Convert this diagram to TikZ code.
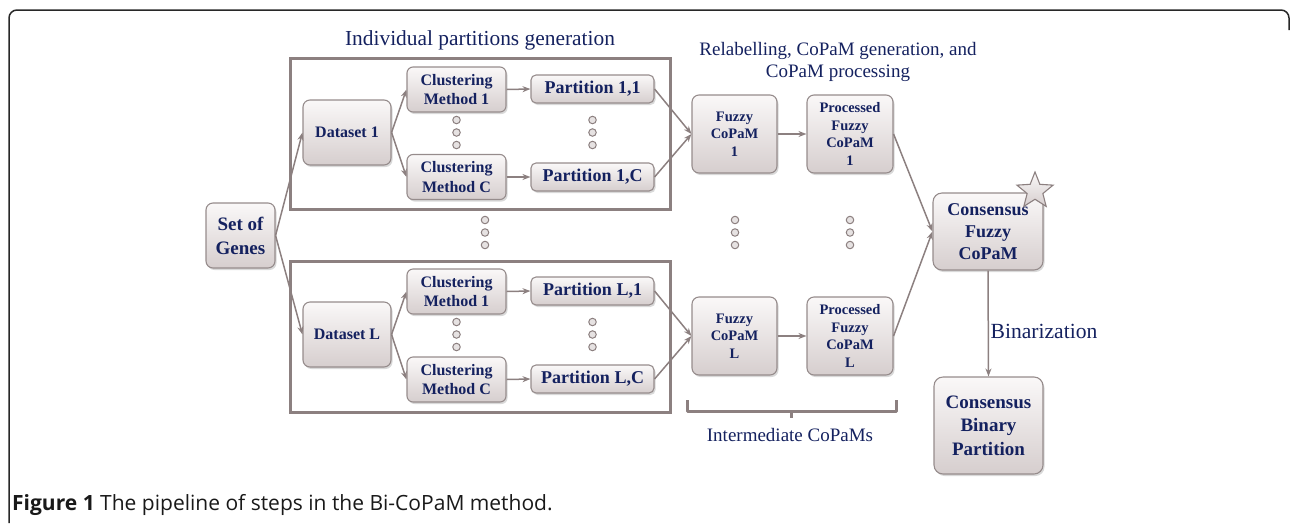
\documentclass[tikz,border=0pt]{standalone}
\usepackage{fontspec}
\setmainfont{Liberation Serif}
\newfontfamily\capfont{Open Sans}
\usetikzlibrary{arrows.meta,shadows,shapes.geometric}
\definecolor{navy}{RGB}{20,33,95}
\definecolor{lgray}{RGB}{140,128,128}
\definecolor{bgray}{RGB}{150,140,140}
\definecolor{topc}{RGB}{250,248,248}
\definecolor{botc}{RGB}{214,206,206}
\definecolor{framec}{RGB}{40,40,40}
\tikzset{
  box/.style={draw=bgray, line width=1.1pt, rounded corners=7pt, top color=topc, bottom color=botc,
    drop shadow={shadow xshift=1.5pt, shadow yshift=-2pt, opacity=0.25, fill=black!60},
    text=navy, align=center, inner sep=0pt},
  conn/.style={draw=lgray, line width=1.5pt, -{Stealth[length=8pt,width=6pt]}},
  grp/.style={draw=lgray, line width=3pt},
  dotc/.style={circle, draw=lgray, line width=1pt, fill=botc!60, minimum size=7.5pt, inner sep=0pt},
  lbl/.style={text=navy, inner sep=0pt},
}
\begin{document}
\begin{tikzpicture}[x=1pt,y=-1pt]
\useasboundingbox (0,0) rectangle (1290,523);
% outer frame
\draw[framec, line width=1.5pt, rounded corners=8pt] (9,523) -- (9,10) -- (1289,10) -- (1289,30);
% group boxes
\node[grp, minimum width=380pt, minimum height=151pt, inner sep=0pt] (g1) at (480,133.5) {};
\node[grp, minimum width=380pt, minimum height=151pt, inner sep=0pt] (g2) at (480,336.5) {};
\node[lbl, font=\fontsize{21.4}{24}\selectfont] (t1) at (480,40) {Individual partitions generation};
\node[lbl, font=\fontsize{19}{22}\selectfont, align=center] (t2) at (838,62) {Relabelling, CoPaM generation, and\\CoPaM processing};
% set of genes
\node[box, minimum width=69pt, minimum height=65pt, font=\fontsize{19}{24}\selectfont\bfseries] (sg) at (240.5,235.5) {Set of\\Genes};
% top group
\node[box, minimum width=88pt, minimum height=65pt, font=\fontsize{16}{19}\selectfont\bfseries] (ds1) at (347,132.5) {Dataset 1};
\node[box, rounded corners=6pt, minimum width=99pt, minimum height=45pt, font=\fontsize{16}{19.5}\selectfont\bfseries] (c11) at (456.5,89.5) {Clustering\\Method 1};
\node[box, rounded corners=6pt, minimum width=99pt, minimum height=45pt, font=\fontsize{16}{19.5}\selectfont\bfseries] (c1c) at (456.5,177) {Clustering\\Method C};
\node[box, rounded corners=5pt, minimum width=123pt, minimum height=28pt, font=\fontsize{18}{20}\selectfont\bfseries] (p11) at (592.5,89) {Partition 1,1};
\node[box, rounded corners=5pt, minimum width=123pt, minimum height=28pt, font=\fontsize{18}{20}\selectfont\bfseries] (p1c) at (592.5,177) {Partition 1,C};
% bottom group
\node[box, minimum width=88pt, minimum height=65pt, font=\fontsize{16}{19}\selectfont\bfseries] (dsl) at (347,334.5) {Dataset L};
\node[box, rounded corners=6pt, minimum width=99pt, minimum height=45pt, font=\fontsize{16}{19.5}\selectfont\bfseries] (cl1) at (456.5,291.5) {Clustering\\Method 1};
\node[box, rounded corners=6pt, minimum width=99pt, minimum height=45pt, font=\fontsize{16}{19.5}\selectfont\bfseries] (clc) at (456.5,379.5) {Clustering\\Method C};
\node[box, rounded corners=5pt, minimum width=123pt, minimum height=28pt, font=\fontsize{18}{20}\selectfont\bfseries] (pl1) at (592.5,291) {Partition L,1};
\node[box, rounded corners=5pt, minimum width=123pt, minimum height=28pt, font=\fontsize{18}{20}\selectfont\bfseries] (plc) at (592.5,379) {Partition L,C};
% copams
\node[box, minimum width=85pt, minimum height=78pt, font=\fontsize{14.5}{17.3}\selectfont\bfseries] (fz1) at (734.5,134) {Fuzzy\\CoPaM\\1};
\node[box, minimum width=86pt, minimum height=78pt, font=\fontsize{14.5}{17.5}\selectfont\bfseries] (pf1) at (850,134) {Processed\\Fuzzy\\CoPaM\\1};
\node[box, minimum width=85pt, minimum height=78pt, font=\fontsize{14.5}{17.3}\selectfont\bfseries] (fzl) at (734.5,336) {Fuzzy\\CoPaM\\L};
\node[box, minimum width=86pt, minimum height=78pt, font=\fontsize{14.5}{17.5}\selectfont\bfseries] (pfl) at (850,336) {Processed\\Fuzzy\\CoPaM\\L};
\node[box, rounded corners=9pt, minimum width=110pt, minimum height=77pt, font=\fontsize{18}{22}\selectfont\bfseries] (cf) at (988,231.5) {Consensus\\Fuzzy\\CoPaM};
\node[box, rounded corners=9pt, minimum width=109pt, minimum height=97pt, font=\fontsize{19}{23.5}\selectfont\bfseries] (cb) at (988.5,425.5) {Consensus\\Binary\\Partition};
\node[star, star points=5, star point ratio=2.3, minimum size=38pt, inner sep=0pt, draw=lgray, line width=1.1pt, top color=topc, bottom color=botc] (st) at (1035,191) {};
% dots
\foreach \n/\x/\y in {a/456.5/120, b/592.5/120, c/485/220, d/735/220, e/850/220, f/456.5/322, g/592.5/322}{
  \node[dotc] (dot\n1) at (\x,\y) {};
  \node[dotc] (dot\n2) at (\x,\y+12.5) {};
  \node[dotc] (dot\n3) at (\x,\y+25) {};
}
% connectors
\draw[conn] (sg.east) -- (ds1.west);
\draw[conn] (sg.east) -- (dsl.west);
\draw[conn] (ds1.east) -- (c11.west);
\draw[conn] (ds1.east) -- (c1c.west);
\draw[conn] (dsl.east) -- (cl1.west);
\draw[conn] (dsl.east) -- (clc.west);
\draw[conn] (c11.east) -- (p11.west);
\draw[conn] (c1c.east) -- (p1c.west);
\draw[conn] (cl1.east) -- (pl1.west);
\draw[conn] (clc.east) -- (plc.west);
\draw[conn] (p11.east) -- (fz1.west);
\draw[conn] (p1c.east) -- (fz1.west);
\draw[conn] (pl1.east) -- (fzl.west);
\draw[conn] (plc.east) -- (fzl.west);
\draw[conn] (fz1.east) -- (pf1.west);
\draw[conn] (fzl.east) -- (pfl.west);
\draw[conn] (pf1.east) -- (cf.west);
\draw[conn] (pfl.east) -- (cf.west);
\draw[conn] (cf.south) -- (cb.north);
% bracket
\coordinate (bl) at (687,400);
\coordinate (br) at (896,400);
\coordinate (bm) at (791.5,418);
\draw[lgray, line width=3pt, line join=round] (bl) -- (687,411) -- (896,411) -- (br);
\draw[lgray, line width=3pt] (791.5,411) -- (bm);
\node[lbl, font=\fontsize{19}{22}\selectfont] (im) at (790,435) {Intermediate CoPaMs};
\node[lbl, font=\fontsize{21.6}{24}\selectfont] (bz) at (1044,331) {Binarization};
% caption
\node[anchor=west, inner sep=0pt, font=\capfont\fontsize{21}{23}\selectfont, text=black!90] (cap) at (12,505) {\textbf{Figure 1} The pipeline of steps in the Bi-CoPaM method.};
\end{tikzpicture}
\end{document}
